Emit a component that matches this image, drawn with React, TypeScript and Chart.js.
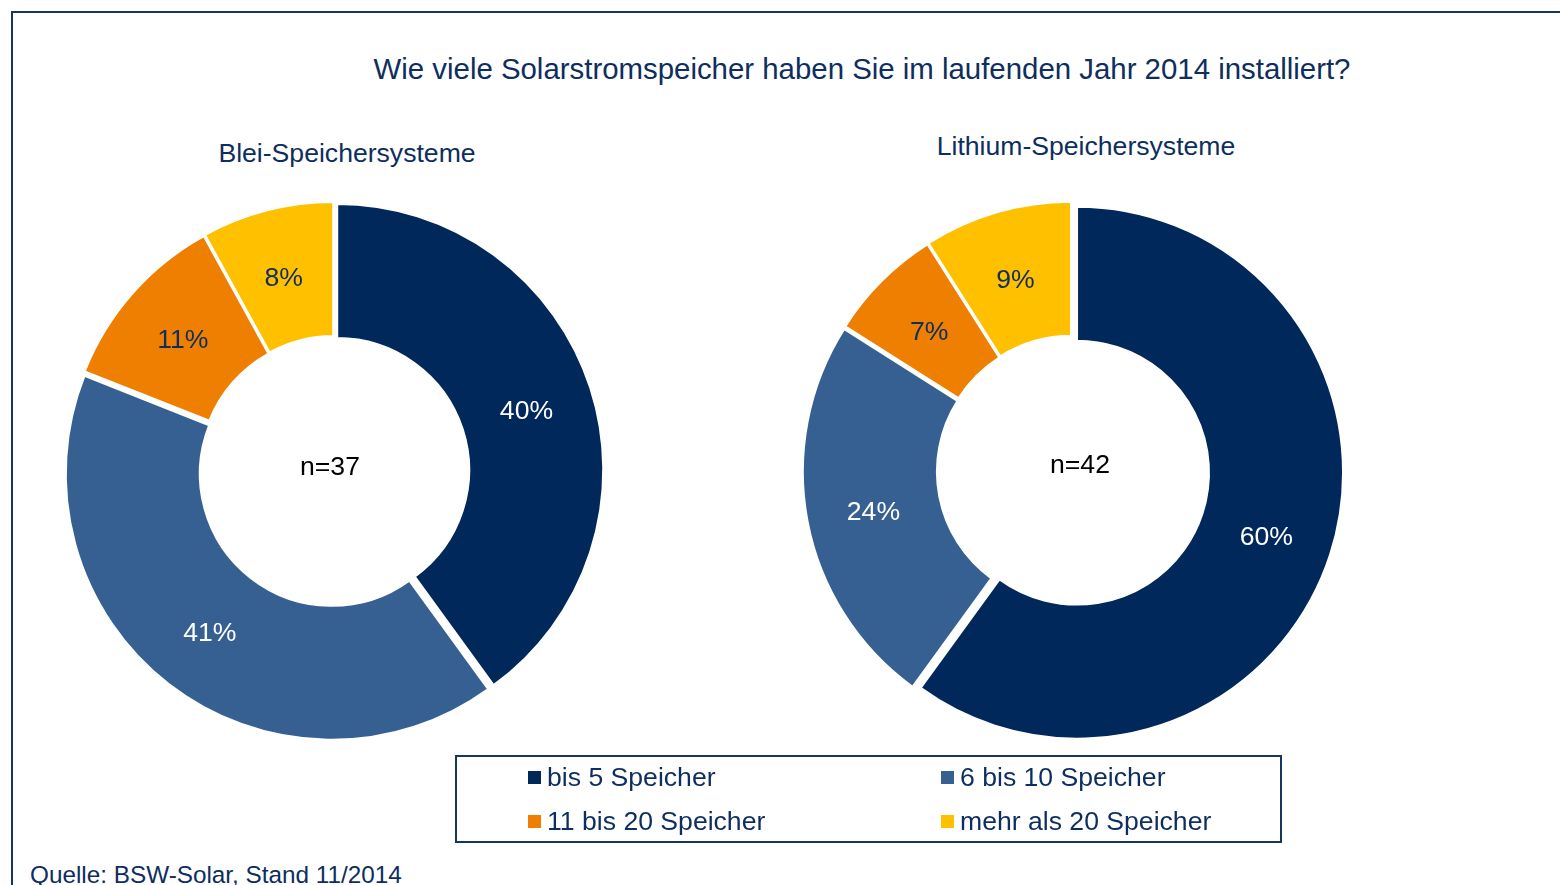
import React, { useEffect, useRef } from 'react';
import { Chart, registerables } from 'chart.js';

Chart.register(...registerables);

// ---- data ----
const categories = ['bis 5 Speicher', '6 bis 10 Speicher', '11 bis 20 Speicher', 'mehr als 20 Speicher'];
const bleiValues = [40, 41, 11, 8];
const lithiumValues = [60, 24, 7, 9];
const chartTitles = ['Blei-Speichersysteme', 'Lithium-Speichersysteme'];
const sampleSizes = ['n=37', 'n=42'];
const mainTitle = 'Wie viele Solarstromspeicher haben Sie im laufenden Jahr 2014 installiert?';
const sourceText = 'Quelle: BSW-Solar, Stand 11/2014';

// ---- styles ----
const sliceColors = ['#00285A', '#376092', '#EE7F00', '#FFC000'];
const labelColors = ['#FFFFFF', '#FFFFFF', '#0D2E5E', '#0D2E5E'];
const FONT = "'Liberation Sans', Arial, Helvetica, sans-serif";
const TEXT = '#0D2E5E';

type PieCfg = {
  values: number[];
  explode: number[];
  centerText: string;
  centerShift: [number, number];
  labelShift: [number, number];
  left: number;
  top: number;
};

const CANVAS = 600;

const pies: PieCfg[] = [
  { values: bleiValues, explode: [3.4, 3.6, 2.6, 3.1], centerText: sampleSizes[0], centerShift: [-4, -3], labelShift: [0, 3], left: 334 - CANVAS / 2, top: 471 - CANVAS / 2 },
  { values: lithiumValues, explode: [5.3, 3.2, 3.0, 3.5], centerText: sampleSizes[1], centerShift: [8, -5], labelShift: [0, 4], left: 1072 - CANVAS / 2, top: 471 - CANVAS / 2 },
];

const piePlugin = {
  id: 'pieExtras',
  beforeDatasetsDraw(chart: any, _args: any, opts: any) {
    const meta = chart.getDatasetMeta(0);
    meta.data.forEach((arc: any, i: number) => {
      if (arc.__wrapped) return;
      const orig = arc.draw;
      arc.draw = function (ctx: CanvasRenderingContext2D, area: any) {
        const d = (opts.explode || [])[i] || 0;
        const mid = (this.startAngle + this.endAngle) / 2;
        ctx.save();
        ctx.translate(Math.cos(mid) * d, Math.sin(mid) * d);
        orig.call(this, ctx, area);
        ctx.restore();
      };
      arc.__wrapped = true;
    });
  },
  afterDatasetsDraw(chart: any, _args: any, opts: any) {
    const meta = chart.getDatasetMeta(0);
    const ctx: CanvasRenderingContext2D = chart.ctx;
    const data = chart.data.datasets[0].data;
    ctx.save();
    ctx.font = `26.6px ${FONT}`;
    ctx.textAlign = 'center';
    ctx.textBaseline = 'middle';
    meta.data.forEach((arc: any, i: number) => {
      const d = (opts.explode || [])[i] || 0;
      const mid = (arc.startAngle + arc.endAngle) / 2;
      const p = arc.getCenterPoint();
      ctx.fillStyle = labelColors[i];
      ctx.fillText(
        `${data[i]}%`,
        p.x + Math.cos(mid) * d + opts.labelShift[0],
        p.y + Math.sin(mid) * d + opts.labelShift[1]
      );
    });
    const ca = chart.chartArea;
    const cx = (ca.left + ca.right) / 2;
    const cy = (ca.top + ca.bottom) / 2;
    ctx.fillStyle = '#000000';
    ctx.fillText(opts.centerText, cx + opts.centerShift[0], cy + opts.centerShift[1]);
    ctx.restore();
  },
};

function Pie({ cfg }: { cfg: PieCfg }) {
  const ref = useRef<HTMLCanvasElement>(null);
  useEffect(() => {
    if (!ref.current) return;
    const chart = new Chart(ref.current, {
      type: 'doughnut',
      data: {
        labels: categories,
        datasets: [
          {
            data: cfg.values,
            backgroundColor: sliceColors,
            borderColor: '#FFFFFF',
            borderWidth: 2,
          },
        ],
      },
      options: {
        responsive: false,
        animation: false,
        devicePixelRatio: 1,
        events: [],
        radius: 266,
        cutout: '49.6%',
        layout: { padding: 0 },
        plugins: {
          legend: { display: false },
          tooltip: { enabled: false },
          title: { display: false },
          pieExtras: {
            explode: cfg.explode,
            centerText: cfg.centerText,
            centerShift: cfg.centerShift,
            labelShift: cfg.labelShift,
          },
        } as any,
      },
      plugins: [piePlugin],
    });
    return () => chart.destroy();
  }, [cfg]);
  return (
    <canvas
      ref={ref}
      width={CANVAS}
      height={CANVAS}
      style={{ position: 'absolute', left: cfg.left, top: cfg.top, width: CANVAS, height: CANVAS }}
    />
  );
}

const legendCols = [528, 941];
const legendRows = [765, 809];

export default function App() {
  return (
    <div
      style={{
        position: 'absolute',
        left: 0,
        top: 0,
        width: 1560,
        height: 885,
        overflow: 'hidden',
        background: '#FFFFFF',
        fontFamily: FONT,
        color: TEXT,
      }}
    >
      <div
        style={{
          position: 'absolute',
          left: 11,
          top: 11,
          width: 1700,
          height: 1000,
          borderTop: '2px solid #17365D',
          borderLeft: '2px solid #17365D',
        }}
      />
      <div style={{ position: 'absolute', left: 0, width: 1724, top: 54, fontSize: 29.4, lineHeight: '29px', textAlign: 'center', whiteSpace: 'nowrap' }}>
        {mainTitle}
      </div>
      <div style={{ position: 'absolute', left: 347 - 200, width: 400, top: 140, fontSize: 26.6, lineHeight: '26px', textAlign: 'center', whiteSpace: 'nowrap' }}>
        {chartTitles[0]}
      </div>
      <div style={{ position: 'absolute', left: 1086 - 200, width: 400, top: 133, fontSize: 26.6, lineHeight: '26px', textAlign: 'center', whiteSpace: 'nowrap' }}>
        {chartTitles[1]}
      </div>
      {pies.map((p, i) => (
        <Pie key={i} cfg={p} />
      ))}
      <div
        style={{
          position: 'absolute',
          left: 455,
          top: 755,
          width: 827,
          height: 88,
          boxSizing: 'border-box',
          border: '2px solid #17365D',
        }}
      />
      {categories.map((c, i) => {
        const col = i % 2;
        const row = Math.floor(i / 2);
        return (
          <React.Fragment key={c}>
            <div
              style={{
                position: 'absolute',
                left: legendCols[col],
                top: legendRows[row] + 6,
                width: 13,
                height: 13,
                background: sliceColors[i],
              }}
            />
            <div
              style={{
                position: 'absolute',
                left: legendCols[col] + 19,
                top: legendRows[row] - 1,
                fontSize: 26.6,
                lineHeight: '26px',
                whiteSpace: 'nowrap',
              }}
            >
              {c}
            </div>
          </React.Fragment>
        );
      })}
      <div style={{ position: 'absolute', left: 30, top: 863, fontSize: 24.3, lineHeight: '24px', whiteSpace: 'nowrap' }}>
        {sourceText}
      </div>
    </div>
  );
}
